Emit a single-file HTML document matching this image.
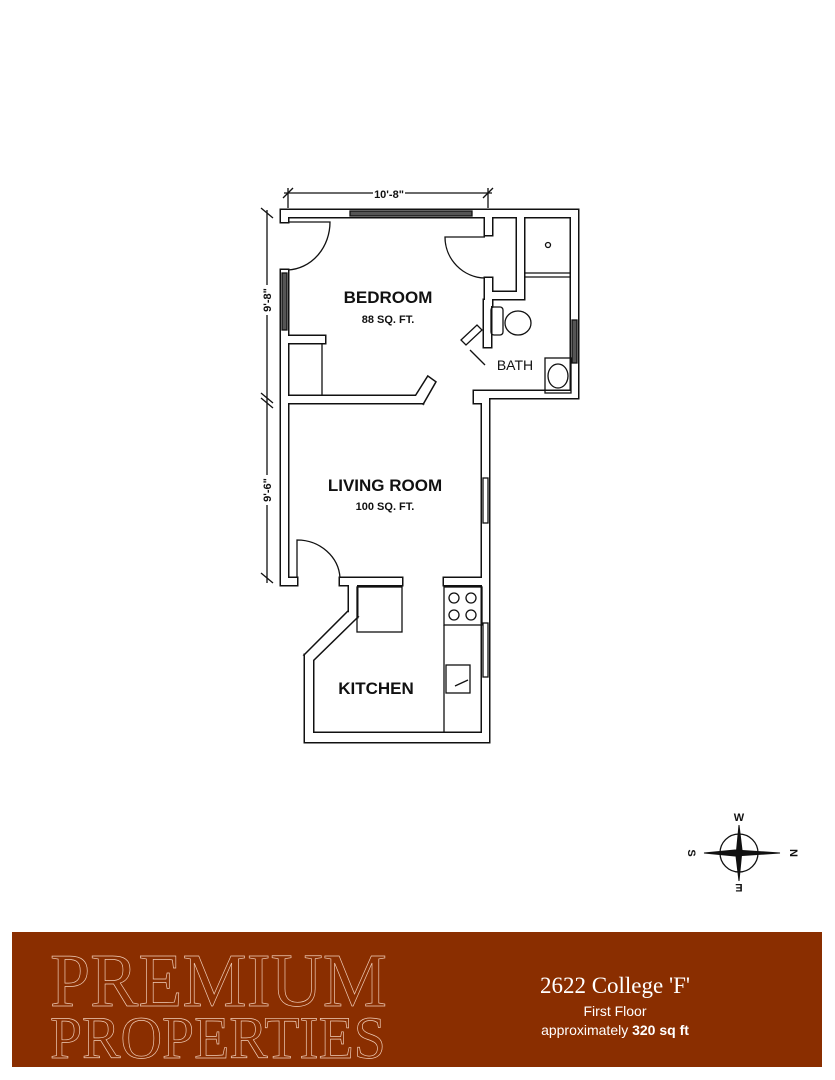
<!DOCTYPE html>
<html><head><meta charset="utf-8"><style>
html,body{margin:0;padding:0;background:#fff;}
body{width:835px;height:1080px;position:relative;overflow:hidden;font-family:"Liberation Sans",sans-serif;}
svg{position:absolute;left:0;top:0;}
.banner{position:absolute;left:12px;top:932px;width:810px;height:135px;background:#8a2e00;}
.pp{position:absolute;left:50px;font-family:"Liberation Serif",serif;color:transparent;-webkit-text-stroke:0.7px #f0cdb8;transform-origin:0 0;white-space:nowrap;line-height:1;}
.info{position:absolute;left:485px;width:260px;text-align:center;color:#fff;white-space:nowrap;}
</style></head><body>
<svg width="835" height="1080" viewBox="0 0 835 1080">
<defs>
<g id="walls">
<rect x="281" y="210" width="297" height="7"/>
<rect x="281" y="210" width="7" height="12"/>
<rect x="281" y="270" width="7" height="315"/>
<rect x="281" y="578" width="16" height="7"/>
<rect x="571" y="210" width="7" height="188"/>
<rect x="474" y="391" width="104" height="7"/>
<rect x="474" y="391" width="15" height="12"/>
<rect x="482" y="391" width="7" height="351"/>
<rect x="305" y="733" width="184" height="9"/>
<rect x="305" y="655" width="8" height="87"/>
<polygon points="305,655 348,612 357,617 313,660"/>
<rect x="349" y="578" width="8" height="39"/>
<rect x="340" y="578" width="62" height="7"/>
<rect x="444" y="578" width="45" height="7"/>
<rect x="288" y="396" width="135" height="7"/>
<polygon points="416,396 428,377 435,382 423,403"/>
<rect x="288" y="336" width="37" height="7"/>
<rect x="485" y="210" width="7" height="25"/>
<rect x="485" y="278" width="7" height="28"/>
<rect x="517" y="210" width="7" height="89"/>
<rect x="485" y="292" width="39" height="7"/>
<rect x="484" y="300" width="7" height="47"/>
</g>
</defs>
<g fill="none" stroke="#111" stroke-width="3"><use href="#walls"/></g>
<g fill="#fff" stroke="none"><use href="#walls"/></g>
<g fill="none" stroke="#111" stroke-width="1.3">
<rect x="350" y="211" width="122" height="5" fill="#555"/>
<rect x="282" y="273" width="5" height="57" fill="#555"/>
<rect x="572" y="320" width="5" height="43" fill="#555"/>
<rect x="483" y="478" width="5" height="45" fill="#fff"/>
<rect x="483" y="623" width="5" height="54" fill="#fff"/>
<path d="M288,222 L330,222 A44,48 0 0 1 288,270"/>
<path d="M485,237 L445,237 A41,41 0 0 0 485,278"/>
<path d="M297,578 L297,540 A43,40 0 0 1 340,578"/>
<path d="M461,340 L477,325 L482,330 L466,345 Z"/>
<path d="M470,350 L485,365"/>
<line x1="322" y1="343" x2="322" y2="396"/>
<line x1="524" y1="273" x2="571" y2="273"/>
<line x1="524" y1="277" x2="571" y2="277"/>
<circle cx="548" cy="245" r="2.5"/>
<ellipse cx="518" cy="323" rx="13" ry="12"/>
<rect x="491" y="307" width="12" height="28" rx="3"/>
<rect x="545" y="358" width="26" height="35"/>
<ellipse cx="558" cy="376" rx="10" ry="12"/>
<rect x="357" y="587" width="45" height="45"/>
<rect x="444" y="587" width="38" height="38"/>
<circle cx="454" cy="598" r="5"/><circle cx="471" cy="598" r="5"/>
<circle cx="454" cy="615" r="5"/><circle cx="471" cy="615" r="5"/>
<line x1="444" y1="625" x2="444" y2="733"/>
<rect x="446" y="665" width="24" height="28"/>
<line x1="455" y1="686" x2="468" y2="680"/>
<line x1="284" y1="193" x2="492" y2="193"/>
<line x1="283" y1="198" x2="293" y2="188"/><line x1="483" y1="198" x2="493" y2="188"/>
<line x1="288" y1="188" x2="288" y2="208"/><line x1="488" y1="188" x2="488" y2="208"/>
<line x1="267" y1="210" x2="267" y2="583"/>
<line x1="261" y1="208" x2="273" y2="218"/>
<line x1="261" y1="393" x2="273" y2="403"/><line x1="261" y1="398" x2="273" y2="408"/>
<line x1="261" y1="573" x2="273" y2="583"/>
</g>
<rect x="373" y="186" width="32" height="14" fill="#fff"/>
<rect x="260" y="285" width="14" height="30" fill="#fff"/>
<rect x="260" y="475" width="14" height="30" fill="#fff"/>
<g font-family="Liberation Sans, sans-serif" fill="#111" text-anchor="middle">
<text x="389" y="198" font-size="11" font-weight="bold">10'-8"</text>
<text transform="translate(271,300) rotate(-90)" font-size="11" font-weight="bold">9'-8"</text>
<text transform="translate(271,490) rotate(-90)" font-size="11" font-weight="bold">9'-6"</text>
<text x="388" y="303" font-size="17" font-weight="bold">BEDROOM</text>
<text x="388" y="323" font-size="11" font-weight="bold">88 SQ. FT.</text>
<text x="385" y="491" font-size="17" font-weight="bold">LIVING ROOM</text>
<text x="385" y="510" font-size="11" font-weight="bold">100 SQ. FT.</text>
<text x="376" y="694" font-size="17" font-weight="bold">KITCHEN</text>
<text x="515" y="370" font-size="14">BATH</text>
</g>
<g stroke="#111" fill="none">
<circle cx="739" cy="853" r="19" stroke-width="1.3"/>
<polygon points="739,825 742,850 739,881 736,856" fill="#111"/>
<polygon points="704,853 735,850 780,853 735,856" fill="#111"/>
</g>
<g font-family="Liberation Sans, sans-serif" font-weight="bold" font-size="11" fill="#111" text-anchor="middle">
<text x="739" y="821">W</text>
<text transform="translate(739,884) rotate(180)">E</text>
<text transform="translate(688,853) rotate(90)">S</text>
<text transform="translate(790,853) rotate(90)">N</text>
</g>
</svg>
<div class="banner"></div>
<div class="pp" style="top:943px;font-size:76px;transform:scaleX(0.95);">PREMIUM</div>
<div class="pp" style="top:1008px;font-size:60px;transform:scaleX(0.96);">PROPERTIES</div>
<div class="info" style="top:973px;font-family:'Liberation Serif',serif;font-size:23px;">2622 College 'F'</div>
<div class="info" style="top:1003px;font-size:14px;">First Floor</div>
<div class="info" style="top:1022px;font-size:14px;">approximately <b>320 sq ft</b></div>
</body></html>
